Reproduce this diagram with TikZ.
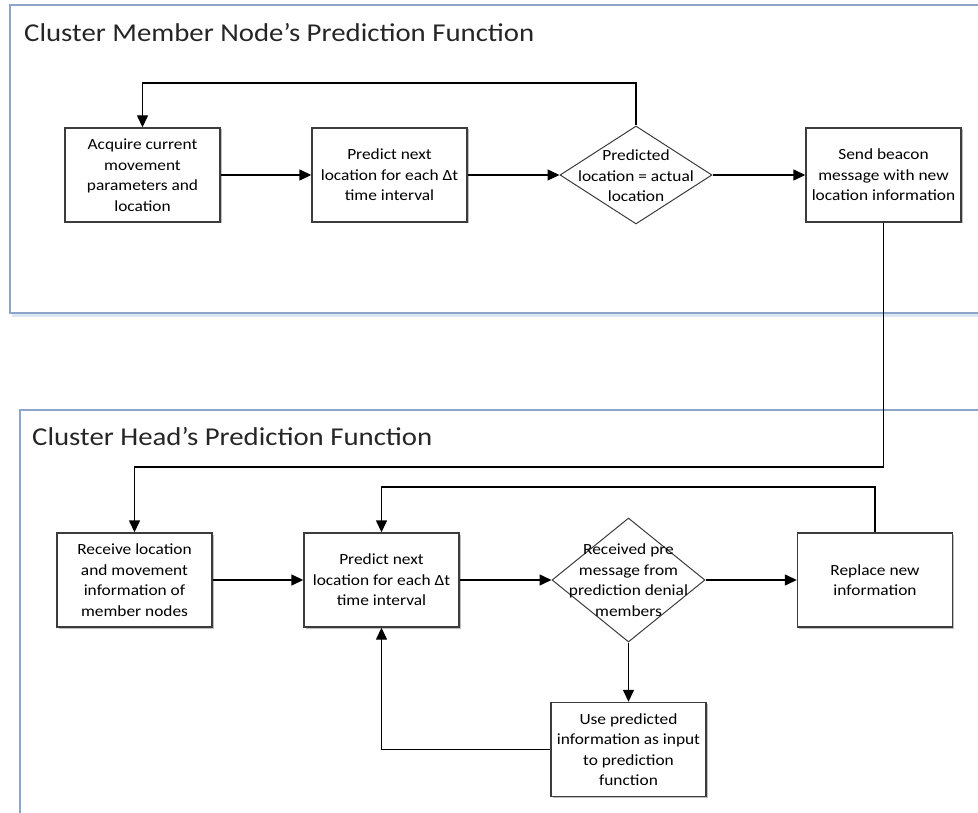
\documentclass[tikz,border=0pt]{standalone}
\usepackage{fontspec}
\setmainfont{Carlito}[FakeStretch=1.12]
\usetikzlibrary{arrows.meta,shapes.geometric,shadows}
\definecolor{framec}{RGB}{140,165,200}
\definecolor{shadowc}{RGB}{220,230,243}
\definecolor{boxc}{RGB}{60,60,60}
\begin{document}
\begin{tikzpicture}[x=1pt,y=-1pt,
  frame/.style={draw=framec, line width=2pt},
  box/.style={draw=boxc, line width=1.4pt, fill=white, minimum width=155pt, minimum height=94pt,
    inner sep=0pt, align=center, font=\fontsize{15.5}{20.5}\selectfont,
    drop shadow={shadow xshift=1.5pt, shadow yshift=-1.5pt, fill=black!25, opacity=1}},
  dia/.style={draw=boxc, line width=1pt, diamond, inner sep=0pt, fill=white},
  dtext/.style={align=center, font=\fontsize{15.5}{20.5}\selectfont, inner sep=0pt},
  title/.style={anchor=west, inner sep=0pt, font=\fontsize{25.7}{28}\selectfont, text=black!85},
  conn/.style={line width=1.4pt, -{Triangle[length=12pt,width=11pt]}}
]
\useasboundingbox (0,0) rectangle (978,813);
\clip (0,0) rectangle (978,813);
% frames
\draw[shadowc, line width=3pt] (12,316) -- (990,316);
\draw[frame] (9.5,5) rectangle (995,313);
\draw[frame] (19.5,410) rectangle (995,830);
\node[title] (t1) at (24,33) {Cluster Member Node’s Prediction Function};
\node[title] (t2) at (32,437) {Cluster Head’s Prediction Function};
% top row
\node[box] (a1) at (142.5,175) {Acquire current\\movement\\parameters and\\location};
\node[box] (a2) at (389.5,175) {Predict next\\location for each Δt\\time interval};
\node[dia, minimum width=152pt, minimum height=98pt] (d1) at (636,175) {};
\node[dtext] (d1t) at (636,176) {Predicted\\location = actual\\location};
\node[box] (a4) at (883.5,175) {Send beacon\\message with new\\location information};
% bottom row
\node[box] (b1) at (134.5,580) {Receive location\\and movement\\information of\\member nodes};
\node[box] (b2) at (381.5,580) {Predict next\\location for each Δt\\time interval};
\node[dia, minimum width=153pt, minimum height=124pt] (d2) at (628.5,580) {};
\node[dtext] (d2t) at (628.5,580) {Received pre\\message from\\prediction denial\\members};
\node[box] (b4) at (875,580) {Replace new\\information};
\node[box] (b5) at (628.5,749.5) {Use predicted\\information as input\\to prediction\\function};
% connectors
\coordinate (c1) at (636,83);
\coordinate (c2) at (883.5,467);
\coordinate (c3) at (875,487);
\draw[conn] (a1) -- (a2);
\draw[conn] (a2) -- (d1);
\draw[conn] (d1) -- (a4);
\draw[conn] (d1.north) -- (c1) -| (a1.north);
\draw[conn] (a4.south) -- (c2) -| (b1.north);
\draw[conn] (b1) -- (b2);
\draw[conn] (b2) -- (d2);
\draw[conn] (d2) -- (b4);
\draw[conn] (b4.north) -- (c3) -| (b2.north);
\draw[conn] (d2.south) -- (b5.north);
\draw[conn] (b5.west) -| (b2.south);
\end{tikzpicture}
\end{document}
